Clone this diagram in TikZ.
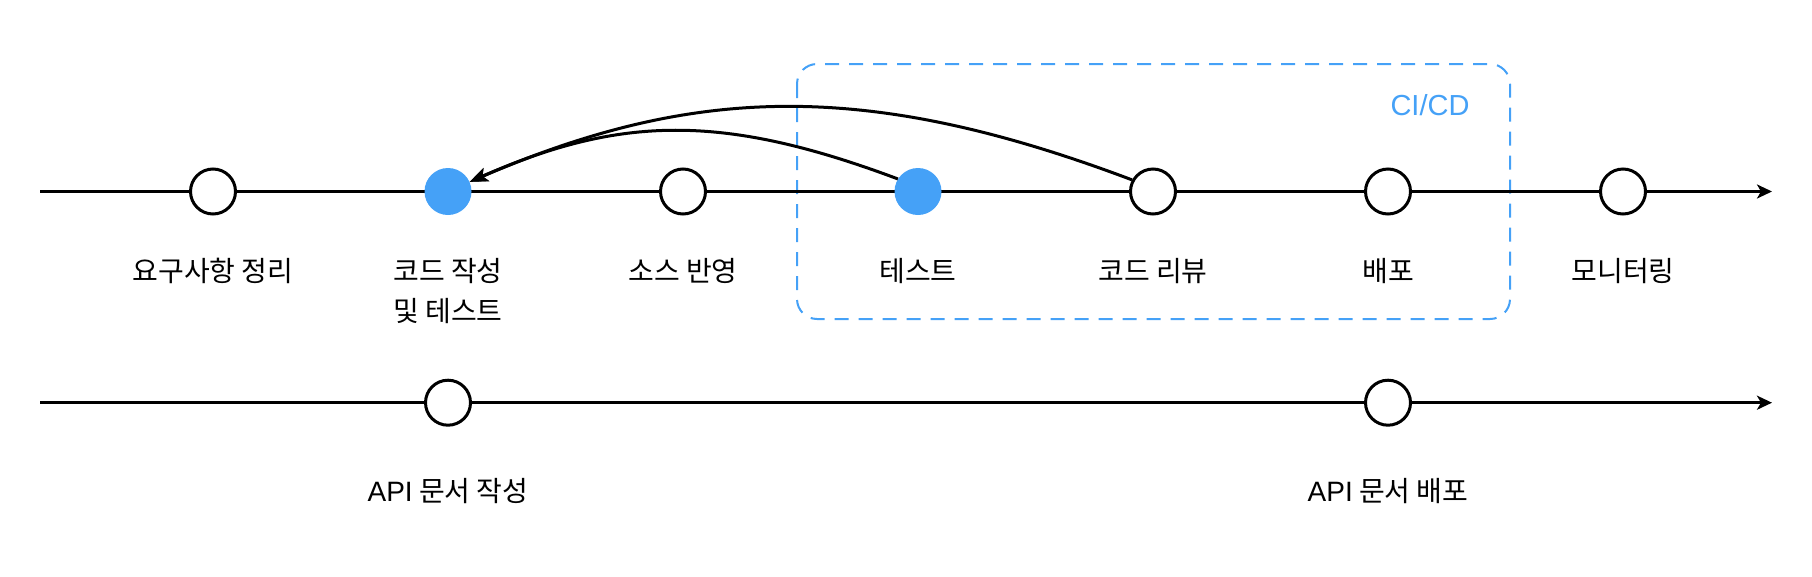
\documentclass[tikz,border=0pt]{standalone}
\usepackage{fontspec}
\setmainfont{Liberation Sans}
\newfontfamily\kr{Noto Sans CJK KR}
\usetikzlibrary{arrows.meta}
\definecolor{cblue}{RGB}{69,161,247}
\begin{document}
\begin{tikzpicture}[x=1pt,y=-1pt,
  stage/.style={circle,draw=black,line width=3pt,fill=white,minimum size=45pt,inner sep=0pt},
  done/.style={circle,fill=cblue,minimum size=47pt,inner sep=0pt},
  axis/.style={line width=3pt,-{Stealth[length=15pt,width=14pt,inset=4pt]}},
  back/.style={line width=3pt,-{Stealth[length=18pt,width=14pt,inset=4pt]}},
  lbl/.style={anchor=base,font=\kr\fontsize{28}{40}\selectfont,inner sep=0pt,align=center},
  cicd/.style={rounded corners=20pt,draw=cblue,line width=2pt,dash pattern=on 14pt off 10pt}]
\useasboundingbox (0,0) rectangle (1812,576);
% CI/CD box
\draw[cicd] (797,64) rectangle (1510,319);
\node[text=cblue,font=\fontsize{29}{32}\selectfont,inner sep=0pt] (cicdlbl) at (1430,105) {CI/CD};
% timeline 1
\coordinate (s1) at (40,191.5);
\coordinate (e1) at (1772,191.5);
\draw[axis] (s1) -- (e1);
\node[stage] (req) at (213,191.5) {};
\node[done]  (code) at (448,191.5) {};
\node[stage] (src) at (683,191.5) {};
\node[done]  (test) at (918,191.5) {};
\node[stage] (rev) at (1153,191.5) {};
\node[stage] (dep) at (1388,191.5) {};
\node[stage] (mon) at (1623,191.5) {};
% back arrows
\draw[back] (test.148) .. controls +(-176,-66) and +(150,-66) .. (code.24);
\draw[back] (rev.151) .. controls +(-265,-100) and +(225,-97) .. (code.24);
% labels row 1
\node[lbl] (lreq) at (213,281) {요구사항 정리};
\node[lbl] (lcode) at (448,321) {코드 작성\\및 테스트};
\node[lbl] (lsrc) at (683,281) {소스 반영};
\node[lbl] (ltest) at (918,281) {테스트};
\node[lbl] (lrev) at (1153,281) {코드 리뷰};
\node[lbl] (ldep) at (1388,281) {배포};
\node[lbl] (lmon) at (1623,281) {모니터링};
% timeline 2
\coordinate (s2) at (40,402.7);
\coordinate (e2) at (1772,402.7);
\draw[axis] (s2) -- (e2);
\node[stage] (apiw) at (448,402.7) {};
\node[stage] (apid) at (1388,402.7) {};
\node[lbl] (lapiw) at (448,501) {{\rmfamily API} 문서 작성};
\node[lbl] (lapid) at (1388,501) {{\rmfamily API} 문서 배포};
\end{tikzpicture}
\end{document}
